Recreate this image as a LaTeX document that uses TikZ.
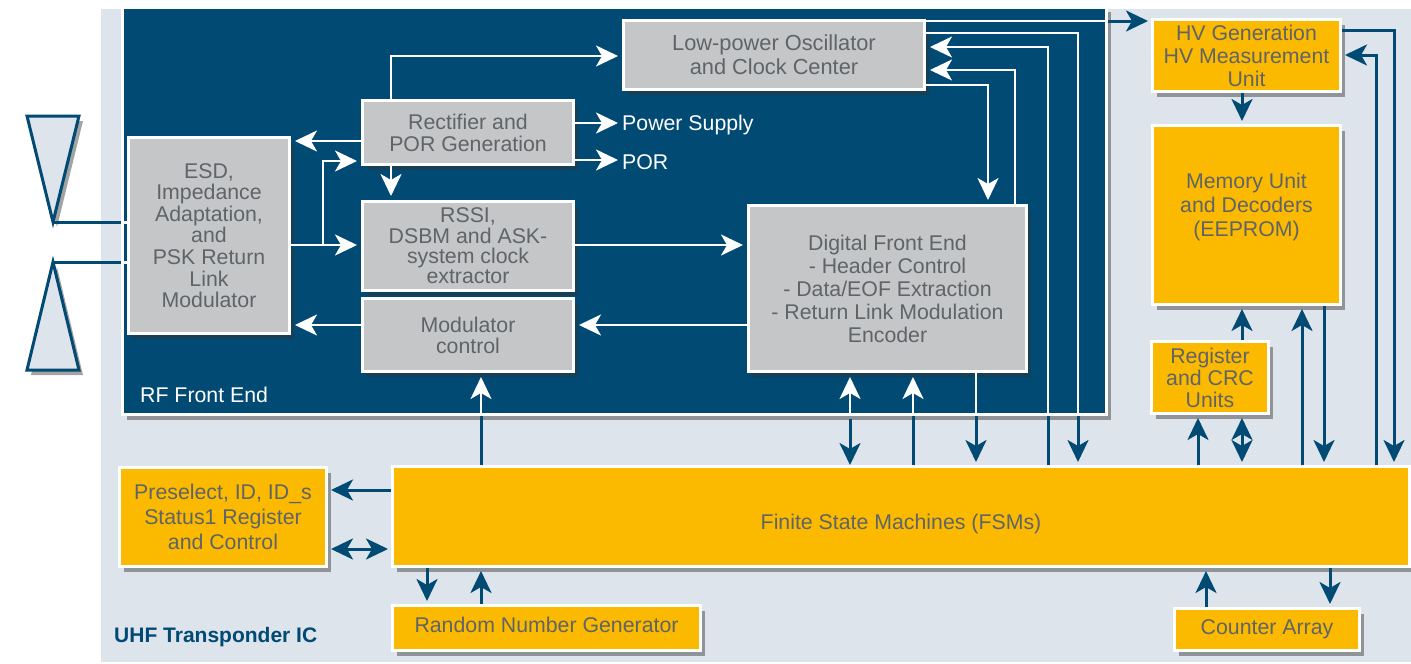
\documentclass[tikz,border=0pt]{standalone}
\usepackage{fontspec}
\setmainfont{Liberation Sans}
\usetikzlibrary{arrows.meta,shadows}
\definecolor{icbg}{HTML}{DDE4EB}
\definecolor{rfnavy}{HTML}{004A73}
\definecolor{blockgray}{HTML}{C5C6C8}
\definecolor{blockgold}{HTML}{FBB900}
\definecolor{blocktext}{HTML}{5F6468}
\tikzset{
  softshadow/.style={drop shadow={shadow xshift=4pt,shadow yshift=-5pt,opacity=0.45,fill=black!80}},
  block/.style={draw=white,line width=3pt,softshadow,align=center,text=blocktext,inner sep=0pt},
  graybox/.style={block,fill=blockgray},
  goldbox/.style={block,fill=blockgold},
  txt/.style={font=\fontsize{21.3}{#1}\selectfont},
  wire/.style={white,line width=2.5pt,shorten >=4pt},
  navywire/.style={rfnavy,line width=3pt,shorten >=3pt},
  antenna/.style={draw=rfnavy,fill=icbg,line width=3pt,softshadow,line join=miter}
}
\begin{document}
\begin{tikzpicture}[x=1pt,y=-1pt,>={Stealth[length=22pt,width=21pt,inset=6pt]}]
  \useasboundingbox (0,0) rectangle (1411,664);
  \fill[icbg] (101,9) rectangle (1411,662);
  % RF front end
  \node[draw=white,line width=3pt,fill=rfnavy,softshadow,minimum width=984pt,minimum height=407.5pt] (rffe) at (614.5,210.75) {};
  \fill[white] (101,0) rectangle (1411,9);
  \node[white,txt=23,anchor=west,inner sep=0pt] (rflabel) at (140,395) {RF Front End};
  \node[rfnavy,font=\fontsize{21}{23}\selectfont\bfseries,anchor=west,inner sep=0pt] (iclabel) at (114,637) {UHF Transponder IC};
  % Gray blocks
  \node[graybox,txt=21.6,minimum width=161pt,minimum height=196pt] (esd) at (209,235.5) {ESD,\\Impedance\\Adaptation,\\and\\PSK Return\\Link\\Modulator};
  \node[graybox,txt=22,minimum width=211pt,minimum height=64pt] (rect) at (468,132.5) {Rectifier and\\POR Generation};
  \node[graybox,font=\fontsize{21.8}{24}\selectfont,minimum width=301pt,minimum height=69pt] (osc) at (774,55) {Low-power Oscillator\\and Clock Center};
  \node[graybox,txt=20.3,minimum width=211pt,minimum height=89pt] (rssi) at (468,246) {RSSI,\\DSBM and ASK-\\system clock\\extractor};
  \node[graybox,txt=21,minimum width=211pt,minimum height=73pt] (modctl) at (468,335) {Modulator\\control};
  \node[graybox,txt=23,minimum width=278pt,minimum height=166pt] (dfe) at (887.5,288.5) {Digital Front End\\- Header Control\\- Data/EOF Extraction\\- Return Link Modulation\\Encoder};
  % Gold blocks
  \node[goldbox,txt=23,minimum width=188pt,minimum height=72pt] (hv) at (1246.5,55.5) {HV Generation\\HV Measurement\\Unit};
  \node[goldbox,txt=24,text depth=21pt,minimum width=188pt,minimum height=179pt] (mem) at (1246.5,215) {Memory Unit\\and Decoders\\(EEPROM)};
  \node[goldbox,txt=22,minimum width=117pt,minimum height=72pt] (crc) at (1210,377.5) {Register\\and CRC\\Units};
  \node[goldbox,txt=23,text height=31pt,minimum width=1017pt,minimum height=100pt] (fsm) at (901,516.5) {Finite State Machines (FSMs)};
  \node[goldbox,txt=25,minimum width=207pt,minimum height=99pt] (pre) at (223,517) {Preselect, ID, ID\_s\\Status1 Register\\and Control};
  \node[goldbox,txt=23,text depth=7pt,minimum width=308pt,minimum height=45pt] (rng) at (546.5,628) {Random Number Generator};
  \node[goldbox,txt=23,minimum width=185pt,minimum height=42pt] (cnt) at (1267,629.5) {Counter Array};
  % Outputs
  \node[white,txt=23,anchor=west,inner sep=0pt] (pwr) at (622,125) {Power Supply};
  \node[white,txt=23,anchor=west,inner sep=0pt] (por) at (622,162) {POR};
  % Antenna
  \coordinate (anttop) at (53,222);
  \coordinate (antbot) at (53,262);
  \draw[antenna] (27,116) -- (79,116) -- (anttop) -- cycle;
  \draw[antenna] (antbot) -- (79,370) -- (27,370) -- cycle;
  \draw[rfnavy,line width=3pt] (anttop) -- (rffe.west |- anttop);
  \draw[rfnavy,line width=3pt] (antbot) -- (rffe.west |- antbot);
  \draw[white,line width=3pt] (rffe.west |- anttop) -- (esd.west |- anttop);
  \draw[white,line width=3pt] (rffe.west |- antbot) -- (esd.west |- antbot);
  % White wires in the front end
  \draw[wire,->] (391,0 |- rect.north) |- (osc.west |- 0,56);
  \draw[wire,->] (rect.east |- 0,123) -- (pwr.west |- 0,123);
  \draw[wire,->] (rect.east |- 0,160) -- (por.west |- 0,160);
  \draw[wire,->] (rect.west |- 0,141) -- (esd.east |- 0,141);
  \draw[wire,->] (esd.east |- 0,245) -- (rssi.west |- 0,245);
  \draw[wire,->] (323,245) |- (rect.west |- 0,161);
  \draw[wire,->] (391,0 |- rect.south) -- (391,0 |- rssi.north);
  \draw[wire,->] (rssi.east |- 0,245) -- (dfe.west |- 0,245);
  \draw[wire,->] (dfe.west |- 0,325) -- (modctl.east |- 0,325);
  \draw[wire,->] (modctl.west |- 0,325) -- (esd.east |- 0,325);
  \draw[wire,->] (1015,0 |- dfe.north) |- (osc.east |- 0,70);
  \draw[wire,->] (osc.east |- 0,85) -| (988,0 |- dfe.north);
  % Wires that leave the front end
  \draw[white,line width=2.5pt] (osc.east |- 0,21) -- (rffe.east |- 0,21);
  \draw[navywire,->] (rffe.east |- 0,21) -- (hv.west |- 0,21);
  \draw[navywire,shorten >=0pt] (481,0 |- fsm.north) -- (481,0 |- rffe.south);
  \draw[wire,->] (481,0 |- rffe.south) -- (481,0 |- modctl.south);
  \draw[navywire,<-] (850,0 |- fsm.north) -- (850,0 |- rffe.south);
  \draw[wire,->] (850,0 |- rffe.south) -- (850,0 |- dfe.south);
  \draw[navywire,shorten >=0pt] (913,0 |- fsm.north) -- (913,0 |- rffe.south);
  \draw[wire,->] (913,0 |- rffe.south) -- (913,0 |- dfe.south);
  \draw[white,line width=2.5pt] (976,0 |- dfe.south) -- (976,0 |- rffe.south);
  \draw[navywire,->] (976,0 |- rffe.south) -- (976,0 |- fsm.north);
  \draw[navywire,shorten >=0pt] (1048,0 |- fsm.north) -- (1048,0 |- rffe.south);
  \draw[wire,->] (1048,0 |- rffe.south) |- (osc.east |- 0,47);
  \draw[white,line width=2.5pt] (osc.east |- 0,33) -| (1078,0 |- rffe.south);
  \draw[navywire,->] (1078,0 |- rffe.south) -- (1078,0 |- fsm.north);
  % Navy wires on the right
  \draw[navywire,->] (1242,0 |- hv.south) -- (1242,0 |- mem.north);
  \draw[navywire,->] (1242,0 |- crc.north) -- (1242,0 |- mem.south);
  \draw[navywire,->] (1198,0 |- fsm.north) -- (1198,0 |- crc.south);
  \draw[navywire,<->,shorten <=3pt] (1242,0 |- crc.south) -- (1242,0 |- fsm.north);
  \draw[navywire,->] (1302,0 |- fsm.north) -- (1302,0 |- mem.south);
  \draw[navywire,->] (1324,0 |- mem.south) -- (1324,0 |- fsm.north);
  \draw[navywire,->] (1376,0 |- fsm.north) |- (hv.east |- 0,55);
  \draw[navywire,->] (hv.east |- 0,30) -| (1394,0 |- fsm.north);
  % Navy wires round the bottom blocks
  \draw[navywire,->] (fsm.west |- 0,490) -- (pre.east |- 0,490);
  \draw[navywire,<->,shorten <=3pt] (pre.east |- 0,549) -- (fsm.west |- 0,549);
  \draw[navywire,->] (427,0 |- fsm.south) -- (427,0 |- rng.north);
  \draw[navywire,->] (481,0 |- rng.north) -- (481,0 |- fsm.south);
  \draw[navywire,->] (1206,0 |- cnt.north) -- (1206,0 |- fsm.south);
  \draw[navywire,->] (1330,0 |- fsm.south) -- (1330,0 |- cnt.north);
\end{tikzpicture}
\end{document}
